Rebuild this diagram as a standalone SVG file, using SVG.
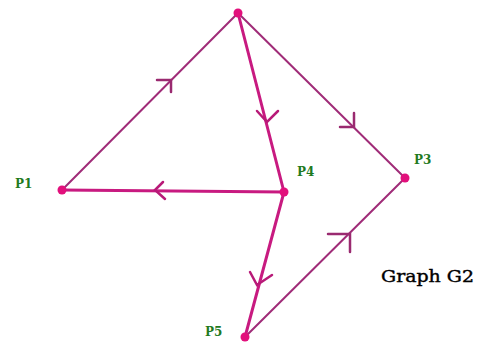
<svg xmlns="http://www.w3.org/2000/svg" width="482" height="345" viewBox="0 0 482 345">
<style>
.thin{stroke:#a02c78;stroke-width:2;fill:none;stroke-linecap:round}
.thick{stroke:#c81a80;stroke-width:3;fill:none;stroke-linecap:round}
.arr{stroke-width:2.5;fill:none;stroke-linecap:round;stroke-linejoin:miter}
.dot{fill:#e2107c}
.lbl{font-family:"DejaVu Serif",serif;font-weight:bold;font-size:12px;fill:#1f7a1f}
</style>
<rect width="482" height="345" fill="#ffffff"/>
<g id="connectors">
<line class="thin" x1="62" y1="190" x2="238" y2="13"/>
<line class="thin" x1="238" y1="13" x2="405" y2="178"/>
<line class="thick" x1="238" y1="13" x2="284" y2="192"/>
<line class="thick" x1="284" y1="192" x2="62" y2="190"/>
<line class="thick" x1="284" y1="192" x2="245" y2="337"/>
<line class="thin" x1="245" y1="337" x2="405" y2="178"/>
<polyline class="arr" stroke="#9a2a70" points="157,80 171,80 171,92"/>
<polyline class="arr" stroke="#9a2a70" points="340,127 354,127 354,113"/>
<polyline class="arr" stroke="#b81a78" points="257,111 267,122 278,111"/>
<polyline class="arr" stroke="#b81a78" points="163,182 155,190 165,199"/>
<polyline class="arr" stroke="#b81a78" points="250,272 257,285 272,275"/>
<polyline class="arr" stroke="#9a2a70" points="328,234 350,234 350,252"/>
</g>
<g id="top"><circle class="dot" cx="238" cy="13" r="4.5"/></g>
<g id="P1"><circle class="dot" cx="62" cy="190" r="4.5"/><text class="lbl" x="15" y="188">P1</text></g>
<g id="P4"><circle class="dot" cx="284" cy="192" r="4.5"/><text class="lbl" x="297" y="176">P4</text></g>
<g id="P3"><circle class="dot" cx="405" cy="178" r="4.5"/><text class="lbl" x="414" y="164">P3</text></g>
<g id="P5"><circle class="dot" cx="245" cy="337" r="4.5"/><text class="lbl" x="205" y="336" font-size="11">P5</text></g>
<g id="title"><text x="381" y="282" font-family="DejaVu Serif, serif" font-size="16.5" fill="#000" stroke="#000" stroke-width="0.4" textLength="93" lengthAdjust="spacingAndGlyphs">Graph G2</text></g>
</svg>
